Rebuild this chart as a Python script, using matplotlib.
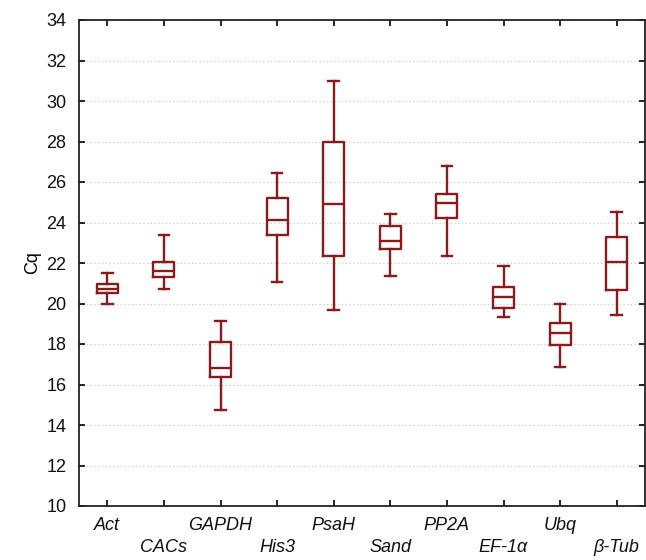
import matplotlib
matplotlib.use('Agg')
import matplotlib.pyplot as plt

plt.rcParams['font.family'] = ['Liberation Sans', 'DejaVu Sans']

genes = ['Act', 'CACs', 'GAPDH', 'His3', 'PsaH', 'Sand', 'PP2A', 'EF-1α', 'Ubq', 'β-Tub']
whisker_low = [19.99, 20.72, 14.74, 21.06, 19.66, 21.38, 22.35, 19.33, 16.88, 19.42]
q1 = [20.50, 21.29, 16.36, 23.40, 22.35, 22.71, 24.21, 19.79, 17.95, 20.67]
medians = [20.73, 21.60, 16.81, 24.11, 24.90, 23.09, 24.95, 20.31, 18.53, 22.05]
q3 = [20.96, 22.07, 18.11, 25.23, 27.96, 23.81, 25.42, 20.80, 19.02, 23.28]
whisker_high = [21.49, 23.38, 19.15, 26.46, 30.99, 24.42, 26.79, 21.85, 19.98, 24.50]

red = '#8b1a1a'

stats = []
for i, g in enumerate(genes):
    stats.append({'label': g, 'whislo': whisker_low[i], 'q1': q1[i], 'med': medians[i],
                  'q3': q3[i], 'whishi': whisker_high[i], 'fliers': []})

fig = plt.figure(figsize=(6.46, 5.6), dpi=100)
ax = fig.add_axes([79 / 646, 1 - 506 / 560, 566 / 646, 486 / 560])

line = dict(color=red, linewidth=1.7)
ax.bxp(stats, positions=range(1, len(genes) + 1), widths=0.37,
       boxprops=line, whiskerprops=line, capprops=line, medianprops=line,
       capwidths=0.19, showfliers=False)

ax.set_xlim(0.5, len(genes) + 0.5)
ax.set_ylim(10, 34)
ax.set_yticks(range(10, 35, 2))
ax.set_xticks(range(1, len(genes) + 1))
ax.set_xticklabels([])

# staggered italic gene names under the axis
for i, g in enumerate(genes):
    y_off = -0.04 if i % 2 == 0 else -0.086
    ax.text(i + 1, y_off, g, transform=ax.get_xaxis_transform(), ha='center', va='center',
            fontsize=13, style='italic', color='#111111')

ax.yaxis.grid(True, linestyle=(0, (1, 2)), color='#cccccc', linewidth=0.9)
ax.set_axisbelow(True)
ax.tick_params(direction='in', top=True, right=True, length=4, width=1.2,
               labelsize=13, labelcolor='#111111', pad=9)
for s in ax.spines.values():
    s.set_linewidth(1.3)
    s.set_color('#222222')

ax.set_ylabel('Cq', fontsize=13, labelpad=4)

fig.savefig('out.png', dpi=100)
